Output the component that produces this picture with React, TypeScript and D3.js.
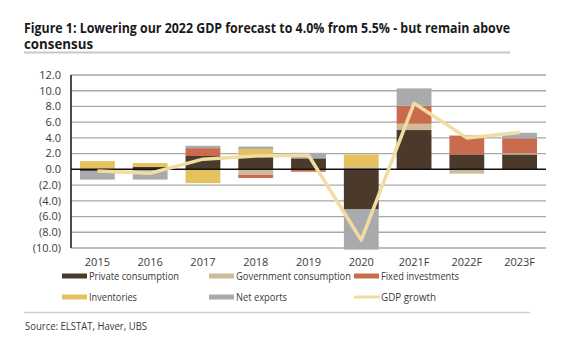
import React from 'react';
import * as d3 from 'd3';

const categories = ['2015', '2016', '2017', '2018', '2019', '2020', '2021F', '2022F', '2023F'];
const privateConsumption = [-0.2, 0.3, 1.7, 1.6, 1.4, -5.1, 5.0, 1.9, 1.9];
const governmentConsumption = [0, 0, 0, -0.7, 0, 0.3, 0.8, -0.55, 0.15];
const fixedInvestments = [0, 0, 1.0, -0.4, -0.3, 0, 2.3, 2.4, 1.9];
const inventories = [1.05, 0.5, -1.75, 1.0, 0, 1.6, 0, 0, 0];
const netExports = [-1.1, -1.3, 0.3, 0.3, 0.7, -5.1, 2.2, 0, 0.7];
const gdpGrowth = [-0.2, -0.5, 1.3, 1.7, 1.8, -9.0, 8.4, 4.0, 4.7];
const yTicks = [12, 10, 8, 6, 4, 2, 0, -2, -4, -6, -8, -10];

const seriesNames = ['Private consumption', 'Government consumption', 'Fixed investments', 'Inventories', 'Net exports'];
const seriesValues = [privateConsumption, governmentConsumption, fixedInvestments, inventories, netExports];
const seriesColors = ['#4b3a2c', '#cdbb9c', '#c96c4e', '#e6c25e', '#a9aaae'];
const lineColor = '#f1dda2';

const W = 574, H = 356;
const left = 71, right = 546, top = 75, bottom = 248;
const FONT = '"Open Sans", "Noto Sans", sans-serif';

const fmt = (v: number) => (v < 0 ? `(${Math.abs(v).toFixed(1)})` : v.toFixed(1));

export default function App() {
  const x = d3.scaleBand<string>().domain(categories).range([left, right]).paddingInner(0.34).paddingOuter(0.17);
  const y = d3.scaleLinear().domain([-10, 12]).range([bottom, top]);

  const rows = categories.map((c, i) => {
    const r: any = { cat: c };
    seriesNames.forEach((n, k) => (r[n] = seriesValues[k][i]));
    return r;
  });
  const stacked = d3.stack<any>().keys(seriesNames).offset(d3.stackOffsetDiverging)(rows);

  const line = d3
    .line<number>()
    .x((_, i) => (x(categories[i]) as number) + x.bandwidth() / 2)
    .y((d) => y(d));

  const legend = [
    { name: seriesNames[0], color: seriesColors[0], x: 62, y: 276, kind: 'bar', w: 90 },
    { name: seriesNames[1], color: seriesColors[1], x: 209, y: 276, kind: 'bar', w: 115 },
    { name: seriesNames[2], color: seriesColors[2], x: 354, y: 276, kind: 'bar', w: 78 },
    { name: seriesNames[3], color: seriesColors[3], x: 62, y: 297, kind: 'bar', w: 48 },
    { name: seriesNames[4], color: seriesColors[4], x: 209, y: 297, kind: 'bar', w: 51 },
    { name: 'GDP growth', color: lineColor, x: 354, y: 297, kind: 'line', w: 55 },
  ];

  return (
    <svg width={W} height={H} style={{ position: 'absolute', left: 0, top: 0, background: '#fff' }} fontFamily={FONT}>
      <rect width={W} height={H} fill="#fff" />
      <text x={24} y={33} fontSize={14.5} fontWeight="bold" fill="#1a1a1a" textLength={486} lengthAdjust="spacingAndGlyphs">
        Figure 1: Lowering our 2022 GDP forecast to 4.0% from 5.5% - but remain above
      </text>
      <text x={24} y={48.5} fontSize={14.5} fontWeight="bold" fill="#1a1a1a" textLength={69} lengthAdjust="spacingAndGlyphs">
        consensus
      </text>
      <line x1={24} x2={510} y1={52.5} y2={52.5} stroke="#c8c8c8" strokeWidth={2} />

      {yTicks.map((t) => (
        <g key={t}>
          {t !== 0 && (
            <line x1={left} x2={right} y1={y(t)} y2={y(t)} stroke="#a8a8a8" strokeWidth={1.3} />
          )}
          <text x={61} y={y(t)} dy="0.35em" textAnchor="end" fontSize={11} fill="#3a3a3a">
            {fmt(t)}
          </text>
        </g>
      ))}

      {stacked.map((s, k) => (
        <g key={s.key} fill={seriesColors[k]}>
          {s.map((d, i) => {
            const y0 = Math.min(d[0], d[1]);
            const y1 = Math.max(d[0], d[1]);
            if (y1 - y0 <= 0) return null;
            return (
              <rect key={i} x={x(categories[i])} width={x.bandwidth()} y={y(y1)} height={y(y0) - y(y1)} />
            );
          })}
        </g>
      ))}

      <line x1={left} x2={right} y1={y(0)} y2={y(0)} stroke="#111" strokeWidth={1.5} />
      <line x1={left} x2={left} y1={top} y2={bottom} stroke="#111" strokeWidth={1.5} />

      <path d={line(gdpGrowth) || ''} fill="none" stroke={lineColor} strokeWidth={3.5} strokeLinejoin="round" />

      {categories.map((c) => (
        <text key={c} x={(x(c) as number) + x.bandwidth() / 2} y={266} textAnchor="middle" fontSize={11} fill="#3a3a3a">
          {c}
        </text>
      ))}

      {legend.map((l) => (
        <g key={l.name}>
          {l.kind === 'bar' ? (
            <rect x={l.x} y={l.y - 2.5} width={25} height={5} fill={l.color} />
          ) : (
            <line x1={l.x} x2={l.x + 26} y1={l.y} y2={l.y} stroke={l.color} strokeWidth={3} />
          )}
          <text x={l.x + 27} y={l.y} dy="0.35em" fontSize={11} fill="#3a3a3a" textLength={l.w} lengthAdjust="spacingAndGlyphs">
            {l.name}
          </text>
        </g>
      ))}

      <line x1={24} x2={530} y1={312.5} y2={312.5} stroke="#d0d0d0" strokeWidth={1.5} />
      <text x={25} y={330} fontSize={11} fill="#3a3a3a" textLength={122} lengthAdjust="spacingAndGlyphs">
        Source: ELSTAT, Haver, UBS
      </text>
    </svg>
  );
}
